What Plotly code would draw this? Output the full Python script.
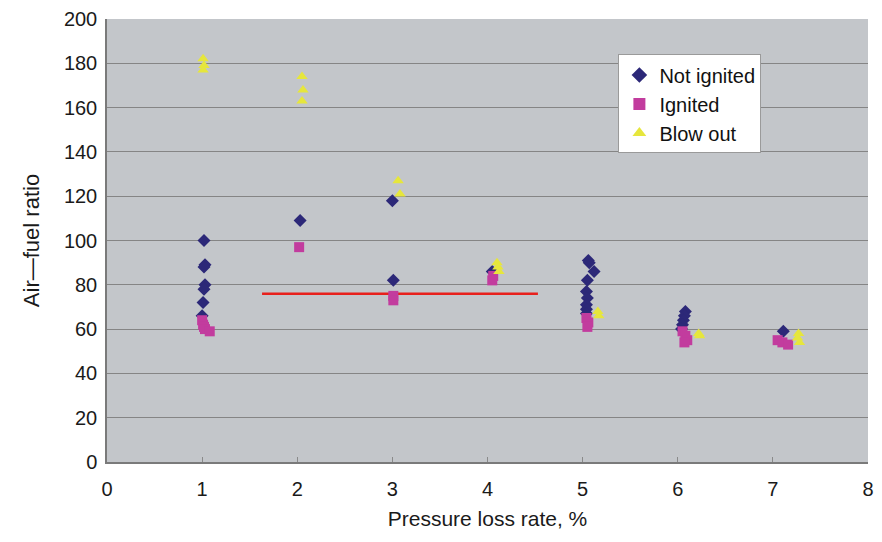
import plotly.graph_objects as go

# Not ignited (diamonds)
ni_x = [1.02, 1.03, 1.02, 1.03, 1.02, 1.01, 1.00, 2.03, 3.00, 3.01, 4.05,
        5.06, 5.07, 5.12, 5.05, 5.04, 5.05, 5.04, 5.04, 5.04,
        6.08, 6.07, 6.06, 6.05, 6.04, 7.11]
ni_y = [100, 89, 88, 80, 78, 72, 66, 109, 118, 82, 86,
        91, 90, 86, 82, 77, 74, 71, 69, 67,
        68, 66, 64, 62, 60, 59]

# Ignited (squares)
ig_x = [1.00, 1.01, 1.02, 1.03, 1.08, 2.02, 3.01, 3.01, 4.06, 4.05,
        5.04, 5.06, 5.05, 6.05, 6.08, 6.10, 6.07,
        7.05, 7.10, 7.16]
ig_y = [64, 62, 61, 60, 59, 97, 75, 73, 84, 82,
        65, 63, 61, 59, 57, 55, 54,
        55, 54, 53]

# Blow out (triangles)
bo_x = [1.01, 1.02, 1.01, 2.05, 2.06, 2.05, 3.06, 3.08, 4.10, 4.11, 4.12,
        5.16, 5.17, 6.22, 6.23, 7.27, 7.26, 7.28]
bo_y = [182, 179, 177, 174, 168, 163, 127, 121, 90, 88, 86,
        68, 66, 58, 57, 58, 56, 54]

# Reference level line
ref_x = [1.63, 4.53]
ref_y = [76, 76]

fig = go.Figure()

fig.add_trace(go.Scatter(
    x=ref_x, y=ref_y, mode="lines",
    line=dict(color="#e8201c", width=2.5),
    showlegend=False, hoverinfo="skip"))

fig.add_trace(go.Scatter(
    x=ni_x, y=ni_y, mode="markers", name="Not ignited",
    marker=dict(symbol="diamond", size=10, color="#2c2878")))

fig.add_trace(go.Scatter(
    x=ig_x, y=ig_y, mode="markers", name="Ignited",
    marker=dict(symbol="square", size=10, color="#c23c9e")))

fig.add_trace(go.Scatter(
    x=bo_x, y=bo_y, mode="markers", name="Blow out",
    marker=dict(symbol="triangle-up", size=10, color="#e6e63c")))

font_family = "Liberation Sans, Arial, sans-serif"

fig.update_layout(
    width=882, height=542,
    margin=dict(l=107, r=8, t=15, b=80),
    paper_bgcolor="white",
    plot_bgcolor="#c3c6ca",
    font=dict(family=font_family, size=20, color="#1a1a1a"),
    xaxis=dict(
        range=[0, 8], tickmode="linear", dtick=1,
        showgrid=False, zeroline=False,
        showline=True, linecolor="#7a7a7a", linewidth=1.5,
        ticks="inside", ticklen=5, tickcolor="#8a8a8a",
        tickfont=dict(size=20), ticklabelstandoff=8,
        title=dict(text="Pressure loss rate, %", font=dict(size=21), standoff=13),
    ),
    yaxis=dict(
        range=[0, 200], tickmode="linear", dtick=20,
        showgrid=True, gridcolor="#858585", gridwidth=1.2,
        zeroline=False,
        showline=True, linecolor="#7a7a7a", linewidth=1.5,
        ticks="", tickfont=dict(size=20), ticklabelstandoff=4,
        title=dict(text="Air\u2014fuel ratio", font=dict(size=22), standoff=18),
    ),
    legend=dict(
        x=0.672, y=0.92, xanchor="left", yanchor="top",
        bgcolor="white", bordercolor="#9a9a9a", borderwidth=1,
        font=dict(size=20, color="#111111"),
        itemsizing="constant", tracegroupgap=0, itemwidth=30,
    ),
)

fig.write_html("out.html")
